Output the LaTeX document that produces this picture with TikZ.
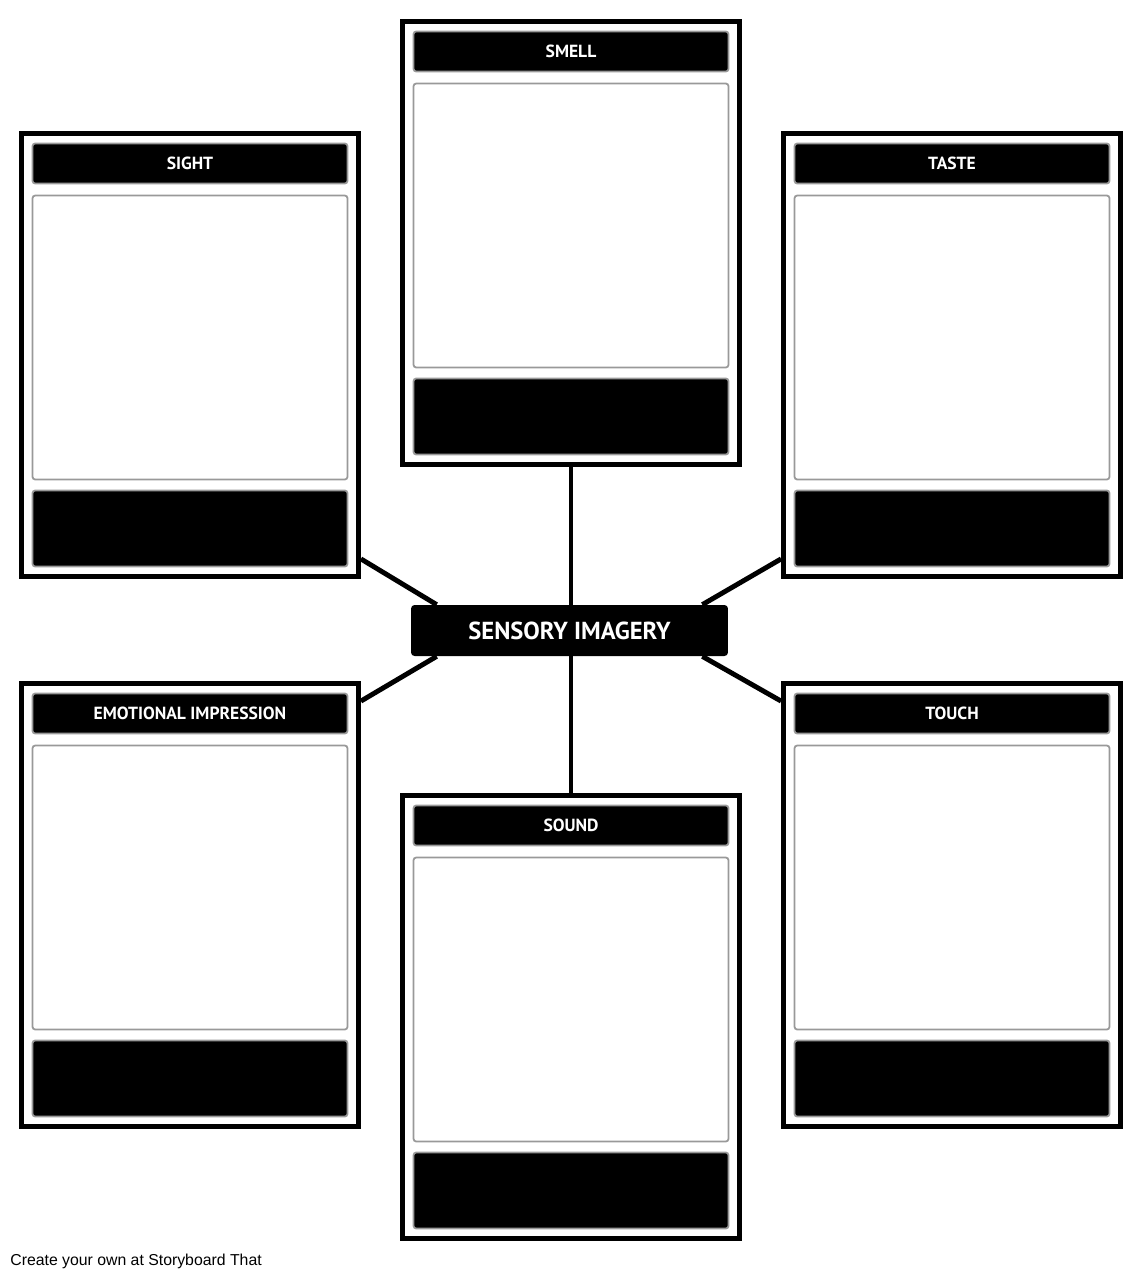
\documentclass[tikz,border=0pt]{standalone}
\usepackage{fontspec}
\setmainfont{Liberation Sans}
\newfontfamily\headfont{PT Sans}
\usetikzlibrary{calc,backgrounds}

\tikzset{
    cardframe/.style={draw=black, line width=2.8pt, fill=white, minimum width=6.74cm, minimum height=8.86cm, inner sep=0pt},
    titlebar/.style={draw=gray!80, line width=1pt, fill=black, rounded corners=1.5pt, minimum width=6.30cm, minimum height=0.80cm, inner sep=0pt, text=white, font=\headfont\bfseries\fontsize{10}{12}\selectfont},
    writebox/.style={draw=gray!80, line width=1pt, fill=white, rounded corners=1.5pt, minimum width=6.30cm, minimum height=5.68cm, inner sep=0pt},
    notebar/.style={draw=gray!80, line width=1pt, fill=black, rounded corners=1.5pt, minimum width=6.30cm, minimum height=1.52cm, inner sep=0pt},
    corebox/.style={fill=black, rounded corners=2pt, minimum width=6.34cm, minimum height=1.02cm, inner sep=0pt, text=white, font=\headfont\bfseries\fontsize{14}{16}\selectfont},
    spoke/.style={draw=black, line width=2.8pt}
}

% una scheda: nome, x, y (angolo in alto a sinistra), titolo
\newcommand{\sensecard}[4]{%
    \node[cardframe] (#1) at (#2+171,#3+224) {};
    \node[titlebar] (#1-t) at (#2+171,#3+32.5) {#4};
    \node[writebox] (#1-b) at (#2+171,#3+206.5) {};
    \node[notebar] (#1-n) at (#2+171,#3+397.5) {};
}

\begin{document}
\begin{tikzpicture}[x=0.02cm, y=-0.02cm]
        \useasboundingbox (0,0) rectangle (1143,1278);

        % Le sei schede
        \sensecard{smell}{400}{19}{SMELL}
        \sensecard{sight}{19}{131}{SIGHT}
        \sensecard{taste}{781}{131}{TASTE}
        \sensecard{emo}{19}{681}{EMOTIONAL IMPRESSION}
        \sensecard{sound}{400}{793}{SOUND}
        \sensecard{touch}{781}{681}{TOUCH}

        % Nodo centrale
        \node[corebox] (core) at (569.5,630.5) {SENSORY IMAGERY};

        % Collegamenti
        \begin{scope}[on background layer]
        \draw[spoke] (smell.south) -- (smell.south |- core.north);
        \draw[spoke] (sound.north |- core.south) -- (sound.north);
        \draw[spoke] ($(sight.south east)+(0,-20)$) -- ($(core.north west)+(26,0)$);
        \draw[spoke] ($(taste.south west)+(0,-20)$) -- ($(core.north east)+(-26,0)$);
        \draw[spoke] ($(emo.north east)+(0,20)$) -- ($(core.south west)+(26,0)$);
        \draw[spoke] ($(touch.north west)+(0,20)$) -- ($(core.south east)+(-26,0)$);
        \end{scope}

        % Scritta in basso
        \node[anchor=base west, inner sep=0pt, font=\fontsize{9}{11}\selectfont] (credit) at (10,1265) {Create your own at Storyboard That};
    \end{tikzpicture}
\end{document}
